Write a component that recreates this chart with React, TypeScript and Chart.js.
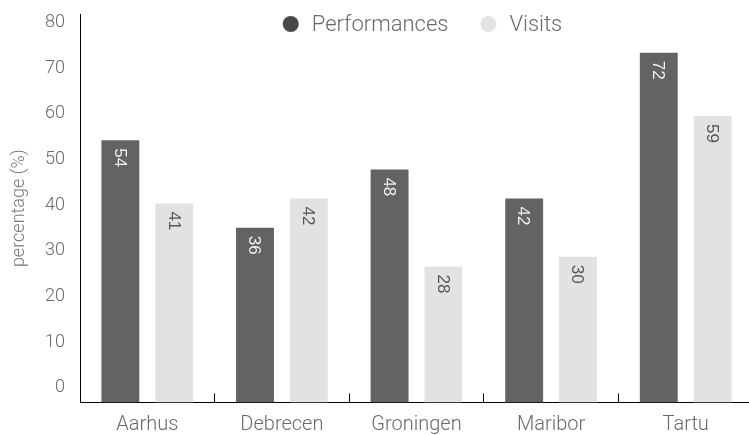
import React, { useEffect, useRef } from "react";
import { Chart, registerables } from "chart.js";

Chart.register(...registerables);

const categories = ["Aarhus", "Debrecen", "Groningen", "Maribor", "Tartu"];
const performances = [54, 36, 48, 42, 72];
const visits = [41, 42, 28, 30, 59];
const yTicks = [0, 10, 20, 30, 40, 50, 60, 70, 80];
const seriesNames = ["Performances", "Visits"];
const seriesColors = ["#626365", "#e1e2e4"];
const labelColors = ["#f2f2f2", "#555555"];

const FONT = "Roboto, 'Noto Sans', sans-serif";

const legendPlugin = {
  id: "topLegend",
  afterDraw(chart: any) {
    const { ctx, chartArea } = chart;
    ctx.save();
    ctx.font = `300 22px ${FONT}`;
    const r = 8;
    const gap = 13;
    const spacing = 32;
    const items = chart.data.datasets.map((ds: any) => ({
      label: ds.label,
      color: ds.backgroundColor,
      w: ctx.measureText(ds.label).width,
    }));
    const total =
      items.reduce((s: number, it: any) => s + 2 * r + gap + it.w, 0) +
      spacing * (items.length - 1);
    let x = (chartArea.left + chartArea.right) / 2 + 6 - total / 2;
    const y = chartArea.top + 10;
    ctx.textBaseline = "middle";
    ctx.textAlign = "left";
    for (const it of items) {
      ctx.beginPath();
      ctx.fillStyle = it.color === seriesColors[0] ? "#47484a" : it.color;
      ctx.arc(x + r, y, r, 0, Math.PI * 2);
      ctx.fill();
      x += 2 * r + gap;
      ctx.fillStyle = "#6a6a6a";
      ctx.fillText(it.label, x, y + 1);
      x += it.w + spacing;
    }
    ctx.restore();
  },
};

const valueLabelPlugin = {
  id: "valueLabels",
  afterDatasetsDraw(chart: any) {
    const { ctx } = chart;
    ctx.save();
    ctx.font = `400 17px 'Liberation Sans', Arial, sans-serif`;
    chart.data.datasets.forEach((ds: any, i: number) => {
      const meta = chart.getDatasetMeta(i);
      meta.data.forEach((el: any, j: number) => {
        ctx.save();
        ctx.translate(el.x - 1, el.y + 8);
        ctx.rotate(Math.PI / 2);
        ctx.textAlign = "left";
        ctx.textBaseline = "middle";
        ctx.fillStyle = labelColors[i];
        ctx.fillText(String(ds.data[j]), 0, 0);
        ctx.restore();
      });
    });
    ctx.restore();
  },
};

export default function App() {
  const ref = useRef<HTMLCanvasElement>(null);

  useEffect(() => {
    if (!ref.current) return;
    const chart = new Chart(ref.current, {
      type: "bar",
      data: {
        labels: categories,
        datasets: [
          {
            label: seriesNames[0],
            data: performances,
            backgroundColor: seriesColors[0],
            yAxisID: "yb",
            categoryPercentage: 0.8,
            barPercentage: 0.7037,
          },
          {
            label: seriesNames[1],
            data: visits,
            backgroundColor: seriesColors[1],
            yAxisID: "yb",
            categoryPercentage: 0.8,
            barPercentage: 0.7037,
          },
        ],
      },
      options: {
        responsive: false,
        animation: false,
        devicePixelRatio: 1,
        layout: { padding: { top: 14, left: 0, right: 2, bottom: 0 } },
        plugins: {
          legend: { display: false },
          tooltip: { enabled: false },
        },
        scales: {
          x: {
            type: "category",
            offset: true,
            grid: {
              display: true,
              offset: true,
              drawOnChartArea: false,
              drawTicks: true,
              tickLength: -9,
              color: "#000",
              lineWidth: 1,
            },
            border: { display: true, color: "#000", width: 1 },
            ticks: {
              color: "#6a6a6a",
              font: { family: FONT, size: 20, weight: "300" as any },
              padding: 19,
              maxRotation: 0,
            },
            afterFit: (scale: any) => {
              scale.height = 32.5;
              scale.paddingLeft = 0;
              scale.paddingRight = 0;
            },
          },
          y: {
            position: "left",
            min: -3.18,
            max: 81.86,
            afterBuildTicks: (axis: any) => {
              axis.ticks = yTicks.map((v) => ({ value: v }));
            },
            grid: { display: false },
            border: { display: true, color: "#000", width: 1 },
            ticks: {
              color: "#6a6a6a",
              font: { family: FONT, size: 18, weight: "300" as any },
              padding: 7,
              callback: (v: any) => String(v),
            },
            title: {
              display: true,
              text: "percentage (%)",
              color: "#7a7a7a",
              font: { family: FONT, size: 18, weight: "300" as any },
              padding: { top: 9, bottom: 0 },
            },
            afterFit: (scale: any) => {
              scale.width = 80;
              scale.paddingTop = 0;
              scale.paddingBottom = 0;
            },
          },
          yb: {
            display: false,
            position: "left",
            min: 0,
            max: 80,
          },
        },
      },
      plugins: [legendPlugin, valueLabelPlugin],
    });
    return () => chart.destroy();
  }, []);

  return (
    <div
      style={{
        position: "fixed",
        left: 0,
        top: 0,
        width: 749,
        height: 435,
        overflow: "hidden",
        background: "#fff",
      }}
    >
      <canvas ref={ref} width={755} height={435} style={{ width: 755, height: 435, display: "block" }} />
    </div>
  );
}
